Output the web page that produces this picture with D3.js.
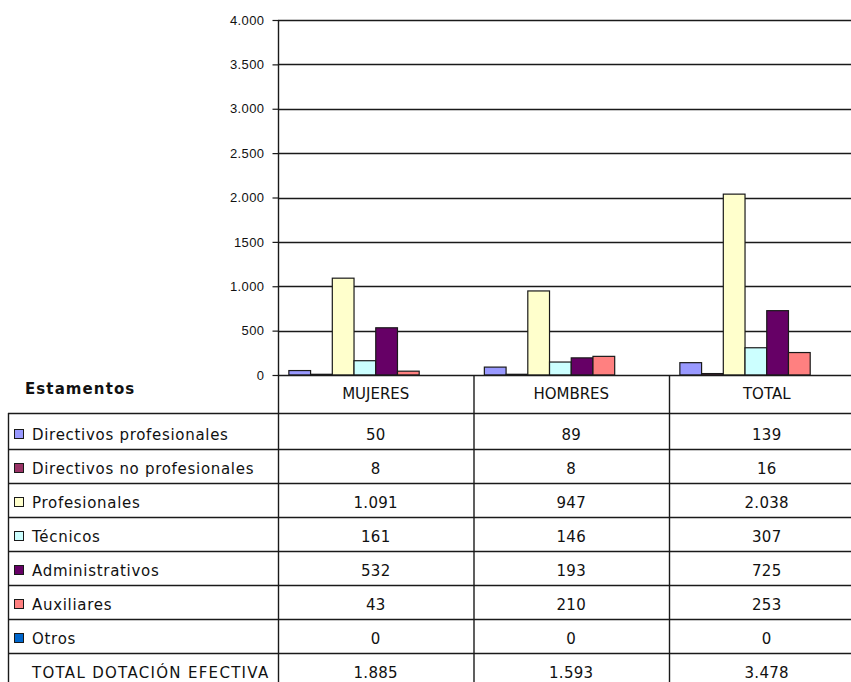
<!DOCTYPE html>
<html>
<head>
<meta charset="utf-8">
<script src="https://cdn.jsdelivr.net/npm/d3@7"></script>
<style>
  body { margin: 0; background: #fff; }
  svg { display: block; }
  .tbl { font-family: "DejaVu Sans", Verdana, sans-serif; font-size: 15px; fill: #111; }
</style>
</head>
<body>
<svg id="chart" width="851" height="682"></svg>
<script>
// Dotación efectiva por estamento y sexo
const groups = ["MUJERES", "HOMBRES", "TOTAL"];
const estamentos = [
  "Directivos profesionales",
  "Directivos no profesionales",
  "Profesionales",
  "Técnicos",
  "Administrativos",
  "Auxiliares",
  "Otros"
];
const colors = ["#9999FF", "#993366", "#FFFFCC", "#CCFFFF", "#660066", "#FF8080", "#0066CC"];
const mujeres = [50, 8, 1091, 161, 532, 43, 0];
const hombres = [89, 8, 947, 146, 193, 210, 0];
const totales = [139, 16, 2038, 307, 725, 253, 0];
const totalLabel = "TOTAL DOTACIÓN EFECTIVA";
const totalRow = [1885, 1593, 3478];
const yTicks = [0, 500, 1000, 1500, 2000, 2500, 3000, 3500, 4000];
const yTickLabels = ["0", "500", "1.000", "1500", "2.000", "2.500", "3.000", "3.500", "4.000"];

const svg = d3.select("#chart");
const W = 851;

// layout of plot + data table below it
const plotLeft = 278, plotTop = 20, plotBottom = 375;
const catWidth = 195.5;
const tableLeft = 8;
const headerBottom = 413;
const tableBottom = 687;

const esNum = d3.formatLocale({ decimal: ",", thousands: ".", grouping: [3], currency: ["", ""] }).format(",d");

const columns = [mujeres, hombres, totales];
const rows = estamentos.concat([totalLabel]);

const x0 = d3.scaleBand().domain(groups).range([plotLeft, plotLeft + catWidth * groups.length]).padding(0);
// every table row owns a slot in the cluster; only the estamentos get a bar
const x1 = d3.scaleBand().domain(rows).range([0, x0.bandwidth()]).paddingInner(0).paddingOuter(0.5);
const y = d3.scaleLinear().domain([0, 4000]).range([plotBottom, plotTop]);
const rowY = d3.scaleBand().domain(rows).range([415, tableBottom]).padding(0);

const ink = "#1a1a1a";

// gridlines
svg.append("g")
  .selectAll("line")
  .data(yTicks.filter(d => d > 0))
  .join("line")
  .attr("x1", plotLeft).attr("x2", W)
  .attr("y1", d => Math.round(y(d)) + 0.5).attr("y2", d => Math.round(y(d)) + 0.5)
  .attr("stroke", ink).attr("stroke-width", 1.4);

// y axis
const yAxis = d3.axisLeft(y)
  .tickValues(yTicks)
  .tickFormat((d, i) => yTickLabels[i])
  .tickSize(6)
  .tickPadding(8);
const gy = svg.append("g").attr("transform", `translate(${plotLeft + 0.5},0)`).call(yAxis);
gy.select(".domain").remove();
gy.selectAll(".tick line").attr("stroke", ink).attr("stroke-width", 1.2);
gy.selectAll(".tick text")
  .attr("font-family", "'Liberation Sans', Arial, sans-serif")
  .attr("font-size", 13)
  .attr("letter-spacing", 0.4)
  .attr("fill", "#111");

// bars
const barData = [];
groups.forEach((g, gi) => {
  estamentos.forEach((e, ei) => {
    barData.push({ group: g, est: e, value: columns[gi][ei], color: colors[ei] });
  });
});
svg.append("g")
  .selectAll("rect")
  .data(barData)
  .join("rect")
  .attr("x", d => x0(d.group) + x1(d.est))
  .attr("width", x1.bandwidth())
  .attr("y", d => y(d.value))
  .attr("height", d => plotBottom - y(d.value))
  .attr("fill", d => d.color)
  .attr("stroke", ink)
  .attr("stroke-width", 1.2);

// axis line, baseline
const lines = svg.append("g").attr("stroke", ink).attr("stroke-width", 1.4);
lines.append("line").attr("x1", plotLeft + 0.5).attr("x2", plotLeft + 0.5).attr("y1", plotTop).attr("y2", tableBottom);
lines.append("line").attr("x1", plotLeft).attr("x2", W).attr("y1", plotBottom + 0.5).attr("y2", plotBottom + 0.5);

// data table grid
groups.slice(1).forEach(g => {
  lines.append("line").attr("x1", x0(g) + 0.5).attr("x2", x0(g) + 0.5).attr("y1", plotBottom).attr("y2", tableBottom);
});
lines.append("line").attr("x1", tableLeft + 0.5).attr("x2", tableLeft + 0.5).attr("y1", headerBottom).attr("y2", tableBottom);
lines.append("line").attr("x1", tableLeft).attr("x2", W).attr("y1", headerBottom + 0.5).attr("y2", headerBottom + 0.5);
rows.slice(1).forEach(r => {
  lines.append("line").attr("x1", tableLeft).attr("x2", W)
    .attr("y1", Math.round(rowY(r)) + 0.5).attr("y2", Math.round(rowY(r)) + 0.5);
});

// header row
const tbl = svg.append("g").attr("class", "tbl");
tbl.append("text")
  .attr("x", 25).attr("y", 394)
  .attr("font-weight", "bold")
  .attr("letter-spacing", 1.1)
  .text("Estamentos");
tbl.selectAll("text.colhead")
  .data(groups)
  .join("text")
  .attr("class", "colhead")
  .attr("x", d => x0(d) + x0.bandwidth() / 2)
  .attr("y", 399)
  .attr("text-anchor", "middle")
  .text(d => d);

// text baseline sits a fixed distance above each row's bottom rule
const rowBase = r => rowY(r) + rowY.bandwidth() - 9.5;
estamentos.forEach((e, i) => {
  const b = rowBase(e);
  tbl.append("rect")
    .attr("x", 14.5).attr("y", Math.round(b - 11) + 0.5)
    .attr("width", 9).attr("height", 9)
    .attr("fill", colors[i]).attr("stroke", ink).attr("stroke-width", 1);
  tbl.append("text")
    .attr("x", 32).attr("y", b)
    .attr("letter-spacing", 0.7)
    .text(e);
});
tbl.append("text")
  .attr("x", 32).attr("y", rowBase(totalLabel))
  .attr("letter-spacing", 1.3)
  .text(totalLabel);

// values
groups.forEach((g, gi) => {
  const vals = columns[gi].concat([totalRow[gi]]);
  rows.forEach((r, ri) => {
    tbl.append("text")
      .attr("x", x0(g) + x0.bandwidth() / 2)
      .attr("y", rowBase(r))
      .attr("text-anchor", "middle")
      .attr("letter-spacing", 0.3)
      .text(esNum(vals[ri]));
  });
});
</script>
</body>
</html>
